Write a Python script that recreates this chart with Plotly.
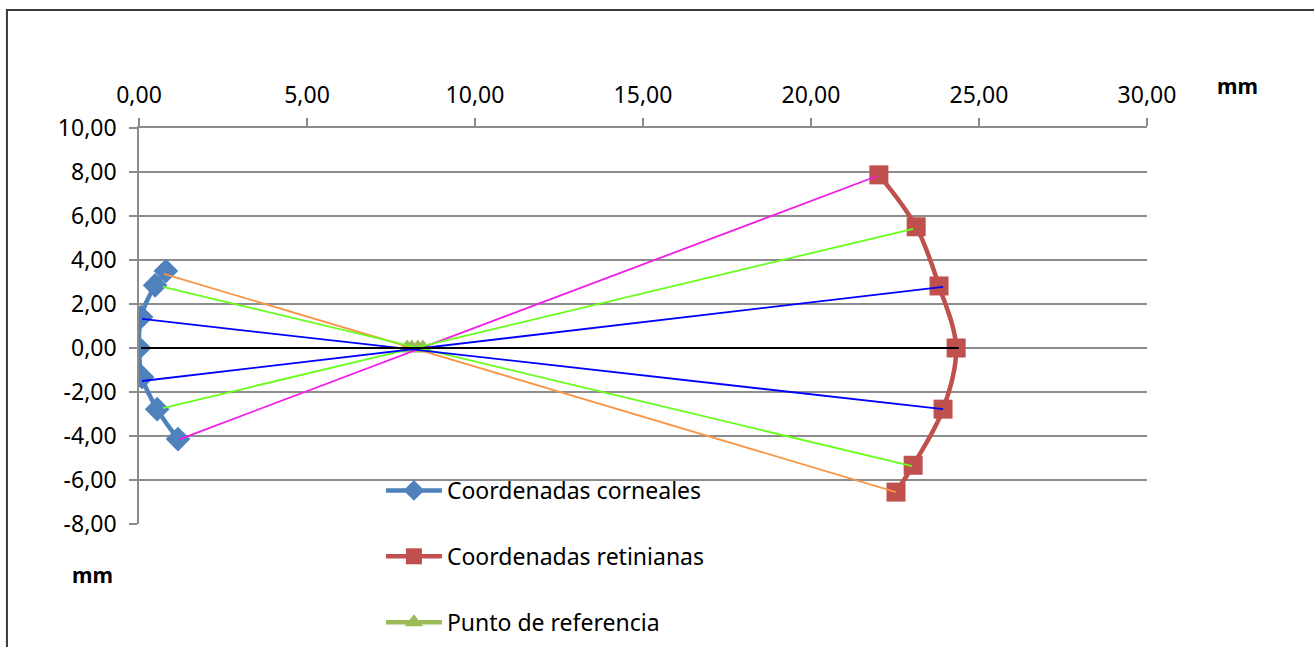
import plotly.graph_objects as go

# Corneal profile (mm)
corneal_x = [0.80, 0.48, 0.06, 0.00, 0.09, 0.54, 1.16]
corneal_y = [3.50, 2.85, 1.41, 0.00, -1.32, -2.78, -4.14]

# Retinal profile (mm)
retinal_x = [22.02, 23.13, 23.81, 24.32, 23.93, 23.04, 22.53]
retinal_y = [7.87, 5.51, 2.82, 0.00, -2.78, -5.33, -6.55]

# Nodal / reference points on the optical axis
ref_x = [7.98, 8.12, 8.30, 8.45]
ref_y = [0.00, 0.00, 0.00, 0.00]

# Rays from cornea to retina: (x0, y0, x1, y1)
ray_x0 = [1.22, 0.74, 0.71, 0.71, 0.09, 0.09, 0.06]
ray_y0 = [-4.14, 3.37, 2.78, -2.73, 1.32, -1.50, 0.00]
ray_x1 = [21.99, 22.53, 23.01, 23.04, 23.93, 23.93, 24.40]
ray_y1 = [7.83, -6.55, -5.37, 5.42, -2.78, 2.78, 0.00]
ray_colors = ["#F21DE6", "#F79646", "#66FF1A", "#66FF1A", "#0000FF", "#0000FF", "#000000"]

x_ticks = [0, 5, 10, 15, 20, 25, 30]
y_ticks = [10, 8, 6, 4, 2, 0, -2, -4, -6, -8]


def fmt(v):
    return f"{v:.2f}".replace(".", ",")


FONT = "Noto Sans"

fig = go.Figure()

fig.add_trace(go.Scatter(
    x=corneal_x, y=corneal_y, mode="lines+markers", name="Coordenadas corneales",
    line=dict(color="#4F81BD", width=4.5, shape="spline"),
    marker=dict(symbol="diamond", size=19, color="#4F81BD"),
    legendgroup="a",
))
fig.add_trace(go.Scatter(
    x=retinal_x, y=retinal_y, mode="lines+markers", name="Coordenadas retinianas",
    line=dict(color="#C0504D", width=4.5, shape="spline"),
    marker=dict(symbol="square", size=19, color="#C0504D"),
    legendgroup="b",
))
fig.add_trace(go.Scatter(
    x=ref_x, y=ref_y, mode="lines+markers", name="Punto de referencia",
    line=dict(color="#9BBB59", width=4.5),
    marker=dict(symbol="triangle-up", size=17, color="#9BBB59"),
    legendgroup="c",
))

for x0, y0, x1, y1, c in zip(ray_x0, ray_y0, ray_x1, ray_y1, ray_colors):
    fig.add_trace(go.Scatter(
        x=[x0, x1], y=[y0, y1], mode="lines",
        line=dict(color=c, width=1.8), showlegend=False, hoverinfo="skip",
    ))

fig.update_layout(
    width=1314, height=647,
    margin=dict(l=139, r=167, t=128, b=123, autoexpand=False),
    paper_bgcolor="white", plot_bgcolor="white",
    font=dict(family=FONT, size=20, color="black"),
    legend=dict(
        x=0.240, y=0.139, xanchor="left", yanchor="top",
        bgcolor="rgba(0,0,0,0)", traceorder="grouped", tracegroupgap=33,
        font=dict(family=FONT, size=23),
        itemwidth=56,
    ),
    xaxis=dict(
        range=[0, 30], side="top", tickvals=x_ticks, ticktext=[fmt(v) for v in x_ticks],
        showgrid=False, zeroline=False, showline=True, linecolor="#8C8C8C", linewidth=1.5,
        ticks="outside", ticklen=8, tickcolor="#8C8C8C", tickwidth=1.5,
        ticklabelstandoff=6,
        tickfont=dict(family=FONT, size=23),
    ),
    yaxis=dict(
        range=[-8, 10], tickvals=y_ticks, ticktext=[fmt(v) for v in y_ticks],
        showgrid=True, gridcolor="#8C8C8C", gridwidth=1.5, zeroline=False,
        showline=True, linecolor="#8C8C8C", linewidth=1.5,
        ticks="outside", ticklen=8, tickcolor="#8C8C8C", tickwidth=1.5,
        ticklabelstandoff=8,
        tickfont=dict(family=FONT, size=23),
    ),
    shapes=[dict(
        type="rect", xref="paper", yref="paper",
        x0=-0.131, x1=1.175, y0=-0.36, y1=1.298,
        line=dict(color="#3A3A3A", width=2), fillcolor="rgba(0,0,0,0)", layer="below",
    )],
    annotations=[
        dict(text="<b>mm</b>", xref="paper", yref="paper", x=1.090, y=1.106,
             xanchor="center", yanchor="middle",
             showarrow=False, font=dict(family=FONT, size=21)),
        dict(text="<b>mm</b>", xref="paper", yref="paper", x=-0.0466, y=-0.129,
             xanchor="center", yanchor="middle",
             showarrow=False, font=dict(family=FONT, size=21)),
    ],
)

fig.write_html("out.html")
